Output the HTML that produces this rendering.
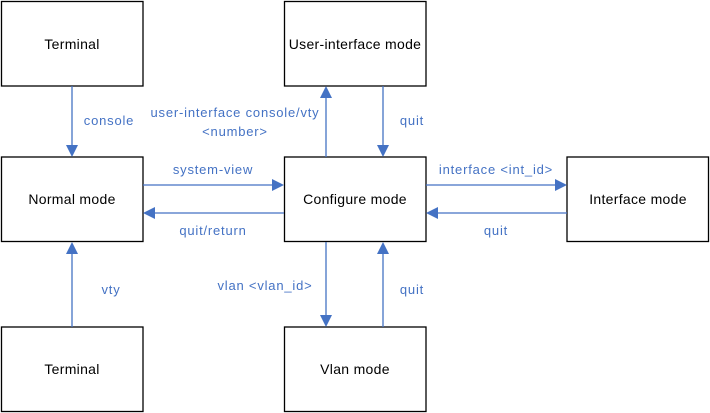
<!DOCTYPE html>
<html><head><meta charset="utf-8"><style>
html,body{margin:0;padding:0;background:#fff;}
svg{display:block}
.b{fill:#fff;stroke:#000;stroke-width:1.3}
.t{font-family:"Liberation Sans",sans-serif;font-size:14px;letter-spacing:0.3px;fill:#000;text-anchor:middle}
.l{font-family:"Liberation Sans",sans-serif;font-size:13px;letter-spacing:0.8px;fill:#4472C4;text-anchor:middle}
.c{stroke:#4472C4;stroke-width:1.3;fill:none}
.a{fill:#4472C4}
</style></head><body>
<svg width="710" height="413" viewBox="0 0 710 413">
<rect class="b" x="1.5" y="1.5" width="141.5" height="84.5"/>
<rect class="b" x="284.5" y="1.5" width="141.5" height="84.5"/>
<rect class="b" x="1.5" y="157" width="141.5" height="84.5"/>
<rect class="b" x="284.5" y="157" width="141.5" height="84.5"/>
<rect class="b" x="567" y="157" width="141.5" height="84.5"/>
<rect class="b" x="1.5" y="327" width="141.5" height="84.5"/>
<rect class="b" x="284.5" y="327" width="141.5" height="84.5"/>
<text class="t" x="72" y="49">Terminal</text>
<text class="t" x="355" y="49">User-interface mode</text>
<text class="t" x="72" y="204">Normal mode</text>
<text class="t" x="355" y="204">Configure mode</text>
<text class="t" x="638" y="204">Interface mode</text>
<text class="t" x="72" y="374">Terminal</text>
<text class="t" x="355" y="374">Vlan mode</text>
<line class="c" x1="72" y1="86" x2="72" y2="146"/><polygon class="a" points="66,145 78,145 72,157"/>
<line class="c" x1="72" y1="327" x2="72" y2="253"/><polygon class="a" points="66,254 78,254 72,242"/>
<line class="c" x1="143" y1="185" x2="273" y2="185"/><polygon class="a" points="272,179 272,191 284,185"/>
<line class="c" x1="284" y1="213" x2="154" y2="213"/><polygon class="a" points="155,207 155,219 143,213"/>
<line class="c" x1="426" y1="185" x2="556" y2="185"/><polygon class="a" points="555,179 555,191 567,185"/>
<line class="c" x1="567" y1="213" x2="437" y2="213"/><polygon class="a" points="438,207 438,219 426,213"/>
<line class="c" x1="326" y1="157" x2="326" y2="97"/><polygon class="a" points="320,98 332,98 326,86"/>
<line class="c" x1="383" y1="86" x2="383" y2="146"/><polygon class="a" points="377,145 389,145 383,157"/>
<line class="c" x1="326" y1="242" x2="326" y2="316"/><polygon class="a" points="320,315 332,315 326,327"/>
<line class="c" x1="383" y1="327" x2="383" y2="253"/><polygon class="a" points="377,254 389,254 383,242"/>
<text class="l" x="109" y="125">console</text>
<text class="l" x="235" y="117">user-interface console/vty</text>
<text class="l" x="235" y="136">&lt;number&gt;</text>
<text class="l" x="412" y="125">quit</text>
<text class="l" x="213" y="174">system-view</text>
<text class="l" x="213" y="235">quit/return</text>
<text class="l" x="496" y="174">interface &lt;int_id&gt;</text>
<text class="l" x="496" y="235">quit</text>
<text class="l" x="265" y="290">vlan &lt;vlan_id&gt;</text>
<text class="l" x="412" y="294">quit</text>
<text class="l" x="111" y="294">vty</text>
</svg>
</body></html>
